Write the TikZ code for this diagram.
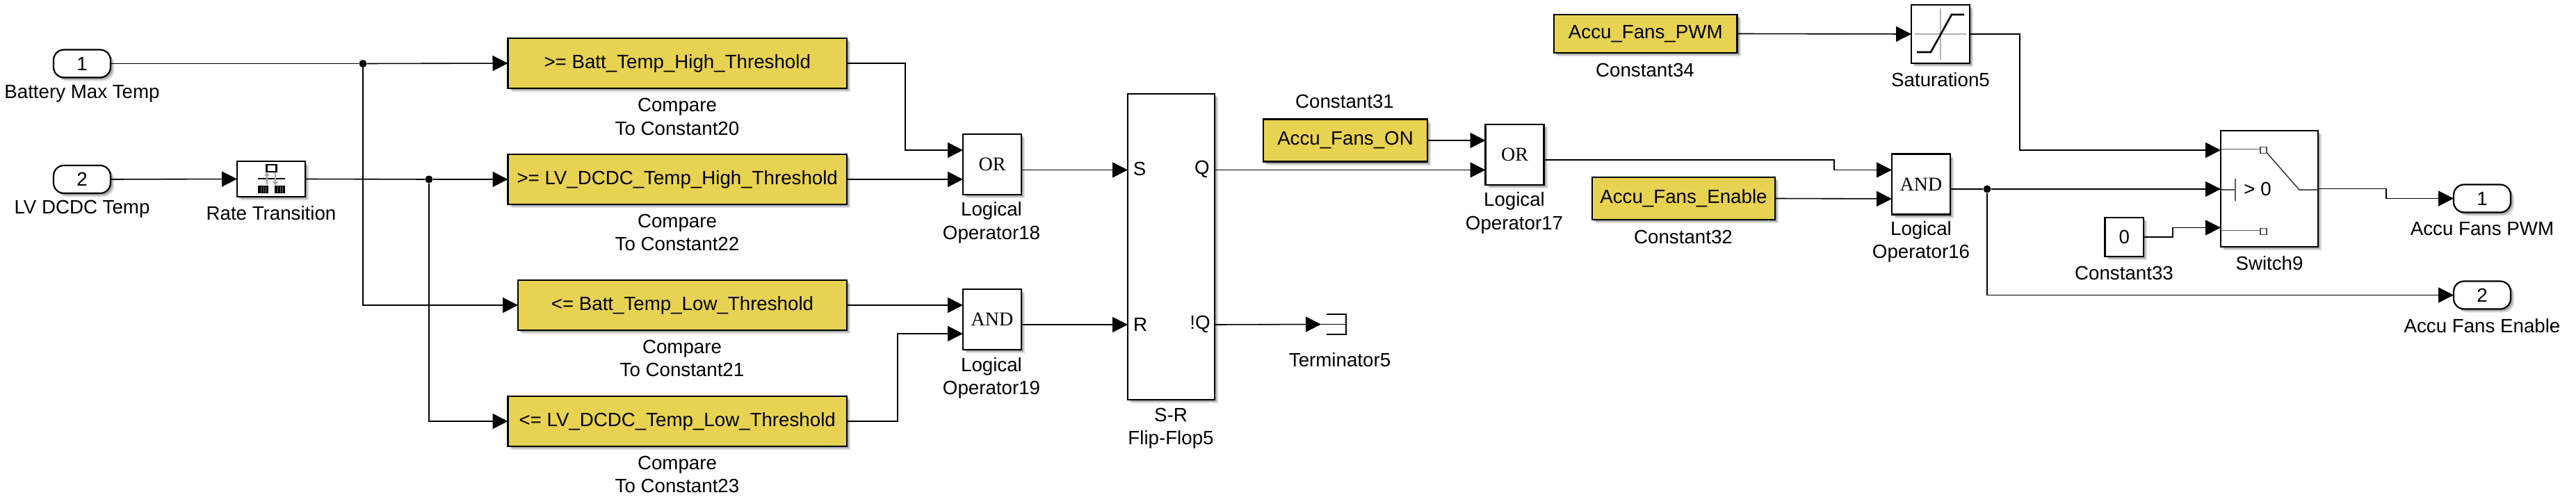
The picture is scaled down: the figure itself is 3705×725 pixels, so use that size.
\documentclass[tikz,border=0pt]{standalone}
\usepackage{fontspec}
\setmainfont{Liberation Sans}
\newfontfamily\serifblk{Liberation Serif}
\usetikzlibrary{arrows.meta,shadows}
\definecolor{blkyellow}{HTML}{E8D252}
\tikzset{
  softshadow/.style={drop shadow={shadow xshift=3pt,shadow yshift=-3pt,fill=black,opacity=.22},
                     drop shadow={shadow xshift=5pt,shadow yshift=-5pt,fill=black,opacity=.14}},
  blk/.style={draw=black,line width=2.2pt,fill=white,inner sep=0pt,outer sep=0pt,softshadow,font=\fontsize{27.7}{33.5}\selectfont},
  yblk/.style={blk,fill=blkyellow},
  logic/.style={blk,minimum width=84pt,minimum height=87pt,font=\serifblk\fontsize{28}{30}\selectfont},
  port/.style={blk,rounded corners=15pt,minimum width=82pt,minimum height=40pt},
  lbl/.style={font=\fontsize{27.7}{33.5}\selectfont,align=center,inner sep=0pt},
  wire/.style={line width=1.6pt,draw=black},
  arr/.style={wire,-{Triangle[length=22pt,width=22pt]}},
  junct/.style={circle,fill=black,inner sep=0pt,minimum size=11pt},
  icon/.style={line width=1.5pt,draw=black!65},
  grayax/.style={line width=2.4pt,draw=black!30},
  pin/.style={draw=black!70,line width=1.3pt,fill=white,inner sep=0pt,minimum size=9pt},
}
\begin{document}
\begin{tikzpicture}[x=1pt,y=-1pt]
\useasboundingbox (0,0) rectangle (3705,725);

% ports in
\node[port] (in1) at (118,91.5) {1};
\node[port] (in2) at (118,258) {2};
\node[lbl] (in1l) at (118,135) {Battery Max Temp};
\node[lbl] (in2l) at (118,301) {LV DCDC Temp};

% rate transition
\node[blk,minimum width=98pt,minimum height=51pt] (rt) at (390,257.5) {};
\node[lbl] (rtl) at (390,306.5) {Rate Transition};
\draw[line width=2.6pt,draw=black,fill=white] (383.5,237) rectangle (397.5,247);
\draw[line width=2.4pt] (371,257) -- (410,257);
\draw[line width=2pt,draw=black!35,-{Triangle[length=6pt,width=7pt]}] (384,266) -- (384,247);
\draw[line width=2pt,draw=black!35,-{Triangle[length=6pt,width=7pt]}] (396,248) -- (396,267);
\fill[black] (371,267) rectangle (386,278);
\fill[black] (395,267) rectangle (410,278);
\draw[line width=.8pt,draw=black!55] (375,268) -- (375,277) (379,268) -- (379,277) (382.5,268) -- (382.5,277)
  (399,268) -- (399,277) (403,268) -- (403,277) (406.5,268) -- (406.5,277);

% compare blocks
\node[yblk,minimum width=487.5pt,minimum height=72.5pt] (c20) at (974.25,91) {>= Batt\_Temp\_High\_Threshold};
\node[yblk,minimum width=487.5pt,minimum height=72.5pt] (c22) at (974.25,258) {>= LV\_DCDC\_Temp\_High\_Threshold};
\node[yblk,minimum width=473pt,minimum height=72.5pt] (c21) at (981.5,439) {<= Batt\_Temp\_Low\_Threshold};
\node[yblk,minimum width=487.5pt,minimum height=72.5pt] (c23) at (974.25,606) {<= LV\_DCDC\_Temp\_Low\_Threshold};
\node[lbl] (c20l) at (974,168) {Compare\\To Constant20};
\node[lbl] (c22l) at (974,334.5) {Compare\\To Constant22};
\node[lbl] (c21l) at (981,515.5) {Compare\\To Constant21};
\node[lbl] (c23l) at (974,682.5) {Compare\\To Constant23};

% logic
\node[logic] (or18) at (1427,236.5) {OR};
\node[logic] (and19) at (1427,459.5) {AND};
\node[logic] (or17) at (2178.5,222.5) {OR};
\node[logic] (and16) at (2763,265) {AND};
\node[lbl] (or18l) at (1426,320.5) {Logical\\Operator18};
\node[lbl] (and19l) at (1426,544) {Logical\\Operator19};
\node[lbl] (or17l) at (2178,306.5) {Logical\\Operator17};
\node[lbl] (and16l) at (2763,348) {Logical\\Operator16};
\coordinate (or18a) at (1385,216);
\coordinate (or18b) at (1385,258);
\coordinate (and19a) at (1385,439);
\coordinate (and19b) at (1385,480);
\coordinate (or17a) at (2136.5,202);
\coordinate (or17b) at (2136.5,244.5);
\coordinate (and16a) at (2721,244.5);
\coordinate (and16b) at (2721,286);

% flip-flop
\node[blk,minimum width=125pt,minimum height=440pt] (sr) at (1684.5,355) {};
\node[lbl] (srS) at (1639,243) {S};
\node[lbl] (srQ) at (1729,243) {Q};
\node[lbl] (srR) at (1640,466.5) {R};
\node[lbl] (srNQ) at (1726,466.5) {!Q};
\node[lbl] (srl) at (1684,616) {S-R\\Flip-Flop5};
\coordinate (srSi) at (1622,244.5);
\coordinate (srRi) at (1622,467);
\coordinate (srQo) at (1747,244.5);
\coordinate (srNo) at (1747,467);

% terminator
\node[inner sep=0pt,minimum width=28pt,minimum height=29pt] (term) at (1922,466.5) {};
\coordinate (termi) at (1900,466.5);
\draw[line width=2.2pt] (term.north west) -- (term.north east) -- (term.south east) -- (term.south west);
\node[lbl] (terml) at (1927,518) {Terminator5};

% constants
\node[yblk,minimum width=236pt,minimum height=61pt] (k31) at (1935,202) {Accu\_Fans\_ON};
\node[lbl] (k31l) at (1934,145.5) {Constant31};
\node[yblk,minimum width=263.5pt,minimum height=55pt] (k34) at (2366.75,48.5) {Accu\_Fans\_PWM};
\node[lbl] (k34l) at (2366,101) {Constant34};
\node[yblk,minimum width=263pt,minimum height=61pt] (k32) at (2421.5,285.5) {Accu\_Fans\_Enable};
\node[lbl] (k32l) at (2421,341) {Constant32};
\node[blk,minimum width=55.5pt,minimum height=56pt] (k33) at (3055.25,341) {0};
\node[lbl] (k33l) at (3055,392.5) {Constant33};

% saturation
\node[blk,minimum width=84pt,minimum height=84pt] (sat) at (2791,49) {};
\node[lbl] (satl) at (2791,114.5) {Saturation5};
\draw[grayax] (2754,49) -- (2828,49) (2791,12) -- (2791,86);
\draw[line width=2.6pt] (2757,75) -- (2777,75) -- (2807,21) -- (2825,21);

% switch
\node[blk,minimum width=140pt,minimum height=167pt] (sw) at (3264,271.5) {};
\node[lbl] (swl) at (3264,379) {Switch9};
\coordinate (swa) at (3194,216);
\coordinate (swb) at (3194,272);
\coordinate (swc) at (3194,327.5);
\draw[icon] (3195,214.5) -- (3251,214.5);
\draw[icon] (3195,273) -- (3215,273) (3215,257) -- (3215,289);
\draw[icon] (3195,331.5) -- (3251,331.5);
\draw[icon,draw=black!80] (3257,216) -- (3307,273) -- (3333,273);
\node[pin] (p1) at (3255.5,216) {};
\node[pin] (p2) at (3255.5,333) {};
\node[lbl] (gt) at (3247,272) {> 0};

% ports out
\node[port] (out1) at (3570,285.5) {1};
\node[port] (out2) at (3570,424.5) {2};
\node[lbl] (out1l) at (3570,329) {Accu Fans PWM};
\node[lbl] (out2l) at (3570,469) {Accu Fans Enable};

% junctions
\node[junct] (j1) at (522,91.5) {};
\node[junct] (j2) at (617,258) {};
\node[junct] (j3) at (2858,272) {};
\coordinate (and16o) at (2805,272);
\coordinate (or17o) at (2220.5,230);
\coordinate (or18o) at (1469,244.5);
\coordinate (and19o) at (1469,467);

% wires
\draw[wire] (in1.east) -- (j1);
\draw[arr] (j1) -- (c20.west);
\draw[arr] (in2.east) -- (rt.west);
\draw[wire] (rt.east) -- (j2);
\draw[arr] (j2) -- (c22.west);
\draw[arr] (j1) |- (c21.west);
\draw[arr] (j2) |- (c23.west);
\draw[arr] (c20.east) -| (1302,216) -- (or18a);
\draw[arr] (c22.east) -- (or18b);
\draw[arr] (c21.east) -- (and19a);
\draw[arr] (c23.east) -| (1291,480) -- (and19b);
\draw[arr] (or18o) -- (srSi);
\draw[arr] (and19o) -- (srRi);
\draw[arr] (srQo) -- (or17b);
\draw[arr] (srNo) -- (termi);
\draw[wire] (termi) -- (term.east);
\draw[arr] (k31.east) -- (or17a);
\draw[arr] (or17o) -| (2638,244.5) -- (and16a);
\draw[arr] (k32.east) -- (and16b);
\draw[arr] (k34.east) -- (sat.west);
\draw[arr] (sat.east) -| (2905,216) -- (swa);
\draw[wire] (and16o) -- (j3);
\draw[arr] (j3) -- (swb);
\draw[arr] (j3) |- (out2.west);
\draw[arr] (k33.east) -| (3125,327.5) -- (swc);
\draw[arr] (sw.east) -| (3432,285.5) -- (out1.west);
\end{tikzpicture}
\end{document}
